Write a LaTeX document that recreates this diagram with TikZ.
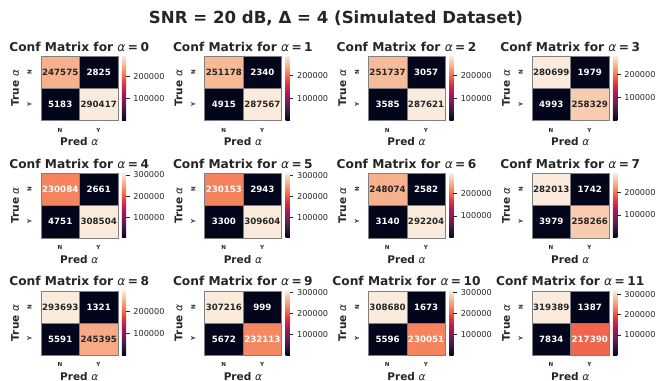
\documentclass[tikz,border=0pt]{standalone}
\usepackage{fontspec}
\setmainfont{DejaVu Sans}

% text and line colours
\definecolor{ink}{RGB}{38,38,38}
\definecolor{cellline}{RGB}{128,128,128}
% key colours of the rocket colour map, low to high
\definecolor{rk0}{RGB}{3,5,26}
\definecolor{rk1}{RGB}{53,25,62}
\definecolor{rk2}{RGB}{112,31,87}
\definecolor{rk3}{RGB}{173,23,89}
\definecolor{rk4}{RGB}{225,51,66}
\definecolor{rk5}{RGB}{243,118,81}
\definecolor{rk6}{RGB}{246,180,143}
\definecolor{rk7}{RGB}{250,235,221}
% cell shades taken from the map for the non-extreme diagonal entries
\definecolor{p0}{RGB}{246,177,140}
\definecolor{p1}{RGB}{246,186,151}
\definecolor{p2}{RGB}{246,187,152}
\definecolor{p3}{RGB}{248,204,177}
\definecolor{p4}{RGB}{244,131,94}
\definecolor{p5}{RGB}{244,130,93}
\definecolor{p6}{RGB}{246,176,139}
\definecolor{p7}{RGB}{248,202,175}
\definecolor{p8}{RGB}{246,170,133}
\definecolor{p9}{RGB}{244,136,99}
\definecolor{p10}{RGB}{244,131,94}
\definecolor{p11}{RGB}{239,101,77}

% colour bar gradient (25bp..75bp spans the bar)
\pgfdeclareverticalshading{rocketbar}{100bp}{color(0bp)=(rk0); color(25bp)=(rk0);
  color(32.143bp)=(rk1); color(39.286bp)=(rk2); color(46.429bp)=(rk3);
  color(53.571bp)=(rk4); color(60.714bp)=(rk5); color(67.857bp)=(rk6);
  color(75bp)=(rk7); color(100bp)=(rk7)}

\begin{document}
\begin{tikzpicture}[x=0.75pt, y=-0.75pt,
  cell/.style={draw=cellline, line width=0.4pt, minimum width=28.9pt,
    minimum height=24.15pt, inner sep=0pt, anchor=north west,
    font=\fontsize{6.5}{7}\selectfont\bfseries},
  cbar/.style={shading=rocketbar, minimum width=3.2pt, minimum height=48.3pt,
    inner sep=0pt, anchor=north west},
  cbtick/.style={draw=ink, line width=0.6pt},
  cblabel/.style={text=ink, inner sep=0pt, anchor=west,
    font=\fontsize{6.1}{7}\selectfont},
  ticklab/.style={text=ink, inner sep=0pt, font=\fontsize{4.2}{5}\selectfont\bfseries},
  axlab/.style={text=ink, inner sep=0pt, font=\fontsize{7.9}{9}\selectfont\bfseries},
  paneltitle/.style={text=ink, inner sep=0pt, font=\fontsize{9.15}{11}\selectfont\bfseries},
  suptitle/.style={text=ink, inner sep=0pt, font=\fontsize{12.45}{14}\selectfont\bfseries}]

\useasboundingbox (0,0) rectangle (660,381);

\node[suptitle] (head) at (336,18) {SNR = 20 dB, Δ = 4 (Simulated Dataset)};

\foreach \k/\va/\vb/\vc/\vd/\fa/\fd/\ta/\td/\lo/\hi in {
  0/247575/2825/5183/290417/p0/rk7/ink/ink/2.825/290.417,
  1/251178/2340/4915/287567/p1/rk7/ink/ink/2.340/287.567,
  2/251737/3057/3585/287621/p2/rk7/ink/ink/3.057/287.621,
  3/280699/1979/4993/258329/rk7/p3/ink/ink/1.979/280.699,
  4/230084/2661/4751/308504/p4/rk7/white/ink/2.661/308.504,
  5/230153/2943/3300/309604/p5/rk7/white/ink/2.943/309.604,
  6/248074/2582/3140/292204/p6/rk7/ink/ink/2.582/292.204,
  7/282013/1742/3979/258266/rk7/p7/ink/ink/1.742/282.013,
  8/293693/1321/5591/245395/rk7/p8/ink/ink/1.321/293.693,
  9/307216/999/5672/232113/rk7/p9/ink/white/0.999/307.216,
  10/308680/1673/5596/230051/rk7/p10/ink/white/1.673/308.680,
  11/319389/1387/7834/217390/rk7/p11/ink/white/1.387/319.389}{
  \pgfmathsetmacro\px{40.7+163.67*mod(\k,4)}
  \pgfmathsetmacro\py{55.8+117.4*floor(\k/4)}
  % heat map cells
  \node[cell, fill=\fa, text=\ta] (c\k-nn) at (\px,\py) {\va};
  \node[cell, fill=rk0, text=white] (c\k-ny) at (\px+38.5,\py) {\vb};
  \node[cell, fill=rk0, text=white] (c\k-yn) at (\px,\py+32.2) {\vc};
  \node[cell, fill=\fd, text=\td] (c\k-yy) at (\px+38.5,\py+32.2) {\vd};
  % colour bar with its ticks
  \node[cbar] (bar\k) at (\px+81,\py) {};
  \foreach \tk in {100,200,300}{
    \ifdim\tk pt<\hi pt
      \pgfmathsetmacro\ty{\py+64.4*(1-(\tk-\lo)/(\hi-\lo))}
      \draw[cbtick] (\px+85.3,\ty) -- ++(3.7,0)
        node[cblabel, xshift=2.5pt] (lab\k-\tk) {\tk000};
    \fi
  }
  % tick labels, axis labels and title
  \node[ticklab] (xn\k) at (\px+19.25,\py+74.2) {N};
  \node[ticklab] (xy\k) at (\px+57.75,\py+74.2) {Y};
  \node[ticklab, rotate=90] (yn\k) at (\px-11,\py+16.1) {N};
  \node[ticklab, rotate=90] (yy\k) at (\px-11,\py+48.3) {Y};
  \node[axlab] (xl\k) at (\px+38.5,\py+85.9) {Pred {\mdseries\itshape α}};
  \node[axlab, rotate=90] (yl\k) at (\px-25.7,\py+32.2) {True {\mdseries\itshape α}};
  \node[paneltitle] (ti\k) at (\px+38.5,\py-9.3)
    {Conf Matrix for {\mdseries\itshape α}\hspace{0.2em}=\hspace{0.2em}\k};
}
\end{tikzpicture}
\end{document}
